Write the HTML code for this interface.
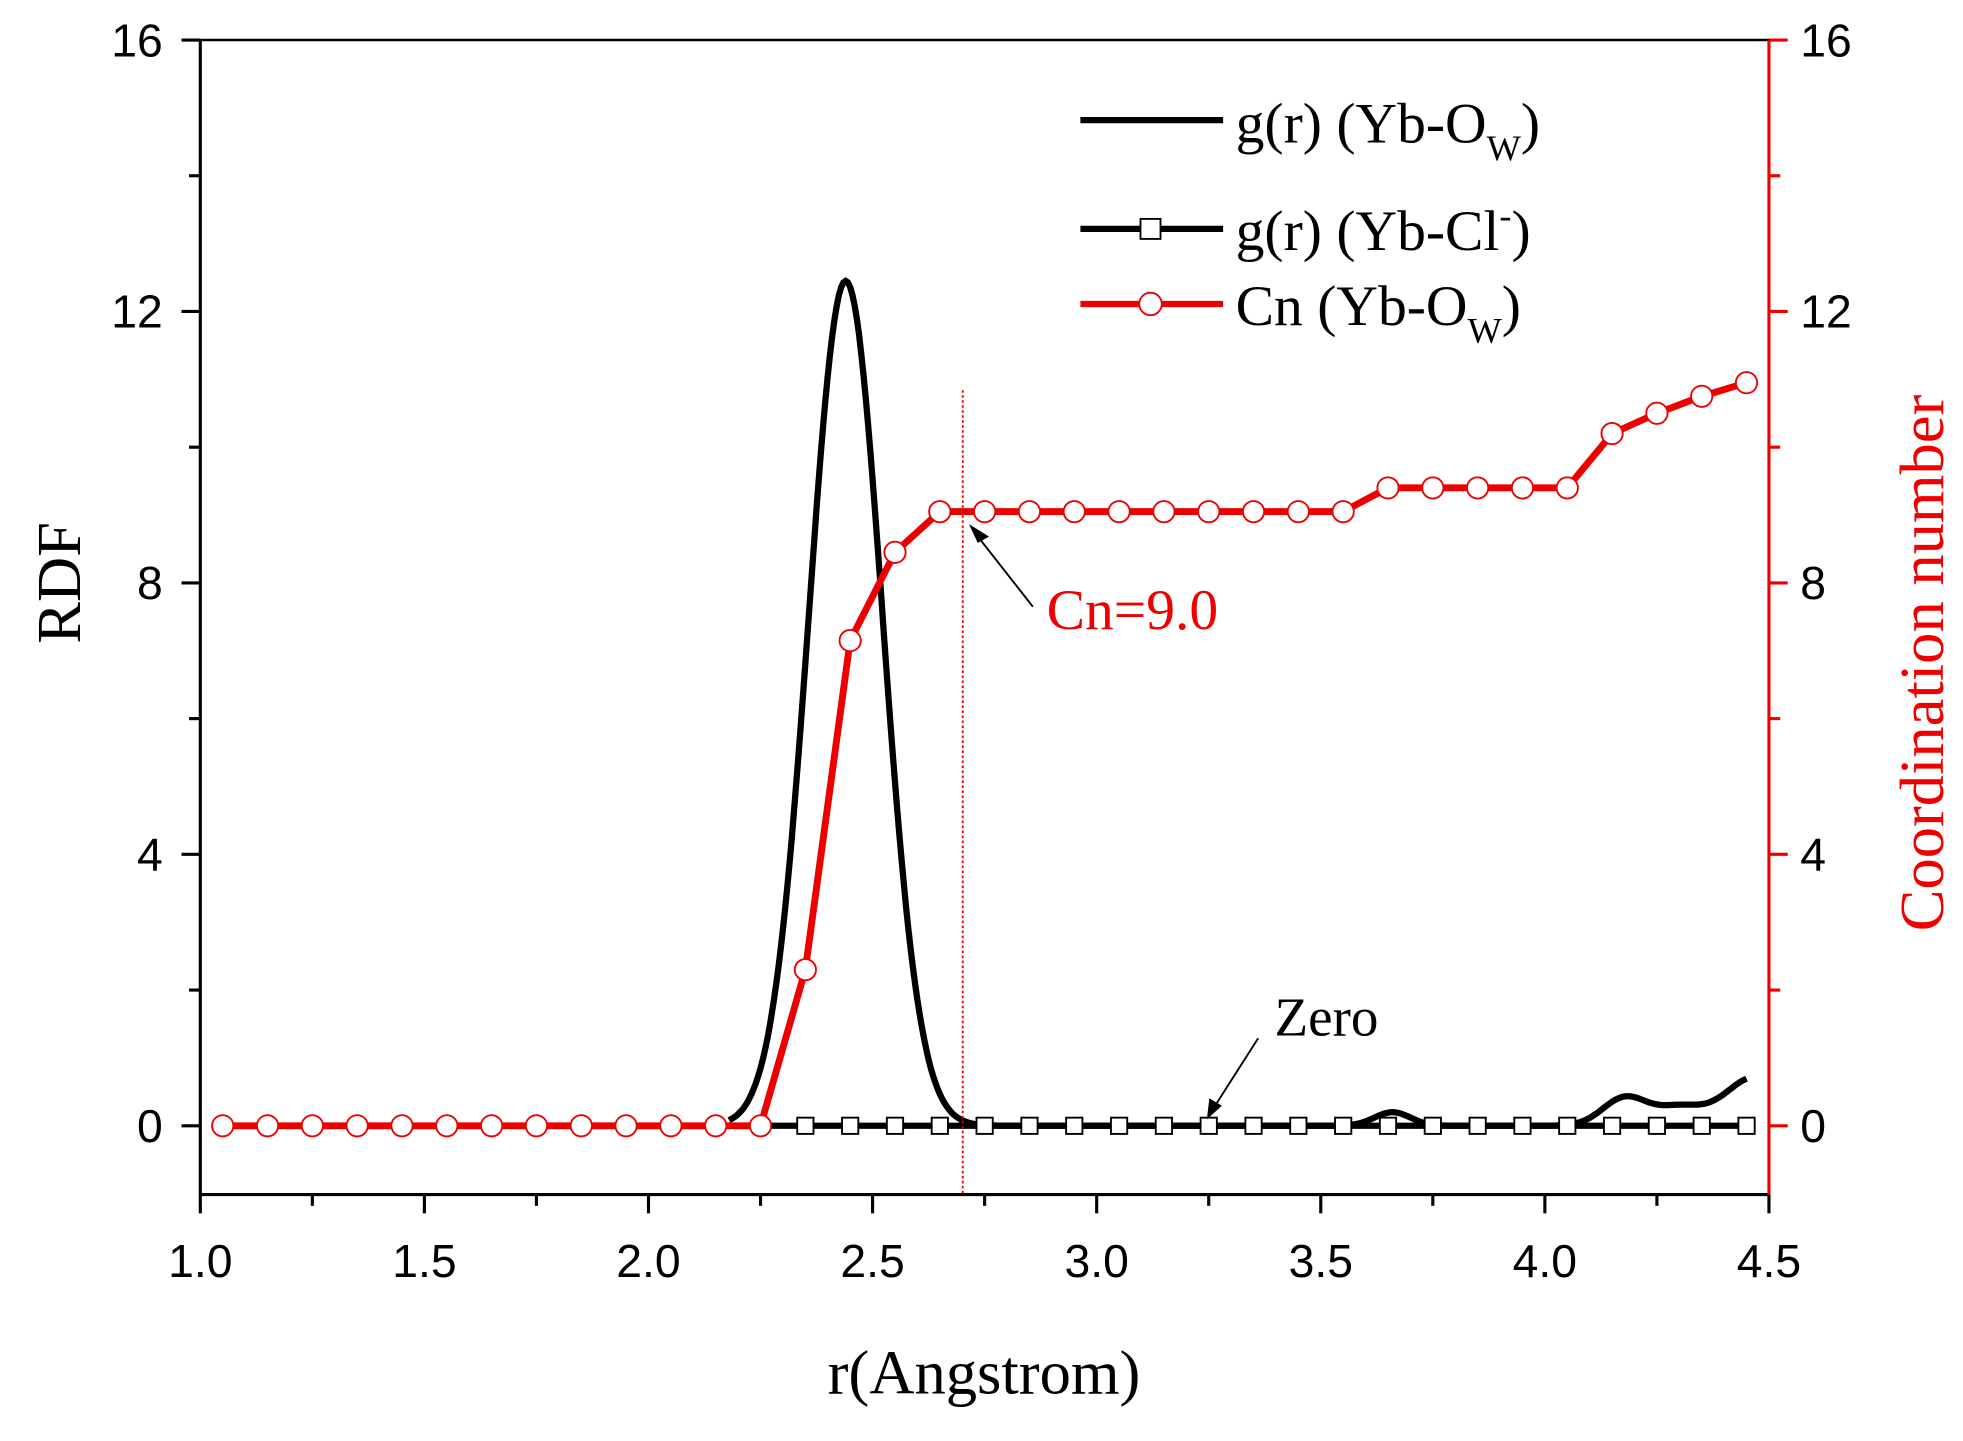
<!DOCTYPE html>
<html><head><meta charset="utf-8"><style>
html,body{margin:0;padding:0;background:#fff;}
svg{display:block;}
text{font-family:"Liberation Sans",sans-serif;}
.serif{font-family:"Liberation Serif",serif;}
</style></head><body>
<svg id="s" width="1963" height="1441" viewBox="0 0 1568 1152" preserveAspectRatio="none" xmlns="http://www.w3.org/2000/svg">
<rect width="1568" height="1152" fill="#fff"/>
<g id="plot"></g>
<line x1="160" y1="32" x2="160" y2="955" stroke="#000" stroke-width="2.5"/>
<line x1="159" y1="955" x2="1414" y2="955" stroke="#000" stroke-width="2.5"/>
<line x1="160" y1="32" x2="1414" y2="32" stroke="#000" stroke-width="2"/>
<line x1="1413" y1="32" x2="1413" y2="955" stroke="#e00" stroke-width="2.5"/>
<g id="ticks"></g>
<g font-size="37" text-anchor="middle">
<text x="160" y="1021">1.0</text><text x="339" y="1021">1.5</text><text x="518" y="1021">2.0</text><text x="697" y="1021">2.5</text><text x="876" y="1021">3.0</text><text x="1055" y="1021">3.5</text><text x="1234" y="1021">4.0</text><text x="1413" y="1021">4.5</text>
</g>
<g font-size="37" text-anchor="end">
<text x="130" y="913">0</text><text x="130" y="696">4</text><text x="130" y="479">8</text><text x="130" y="262">12</text><text x="130" y="45">16</text>
</g>
<g font-size="37" text-anchor="start">
<text x="1438" y="913">0</text><text x="1438" y="696">4</text><text x="1438" y="479">8</text><text x="1438" y="262">12</text><text x="1438" y="45">16</text>
</g>
<text class="serif" x="786" y="1114" font-size="50" text-anchor="middle">r(Angstrom)</text>
<text class="serif" font-size="50" transform="translate(64,466) rotate(-90)" text-anchor="middle">RDF</text>
<text class="serif" font-size="50" fill="#e00" transform="translate(1552,530) rotate(-90)" text-anchor="middle">Coordination number</text>
<line x1="863" y1="96" x2="977" y2="96" stroke="#000" stroke-width="5"/>
<text class="serif" x="987" y="114" font-size="46">g(r) (Yb-O<tspan font-size="29" dy="14">W</tspan><tspan dy="-14">)</tspan></text>
<line x1="863" y1="183" x2="977" y2="183" stroke="#000" stroke-width="5"/>
<rect x="911" y="175" width="16" height="16" fill="#fff" stroke="#000" stroke-width="1.5"/>
<text class="serif" x="987" y="200" font-size="46">g(r) (Yb-Cl<tspan font-size="29" dy="-18">-</tspan><tspan dy="18">)</tspan></text>
<line x1="863" y1="243" x2="977" y2="243" stroke="#e00" stroke-width="5"/>
<circle cx="919" cy="243" r="9" fill="#fff" stroke="#e00" stroke-width="1.5"/>
<text class="serif" x="987" y="260" font-size="46">Cn (Yb-O<tspan font-size="29" dy="14">W</tspan><tspan dy="-14">)</tspan></text>
<line x1="769" y1="312" x2="769" y2="955" stroke="#e00" stroke-width="1.5" stroke-dasharray="2,2"/>
<line x1="825" y1="485" x2="778" y2="425" stroke="#000" stroke-width="1.5"/>
<polygon points="774,419 790,429 781,434" fill="#000"/>
<text class="serif" x="836" y="503" font-size="46" fill="#e00">Cn=9.0</text>
<text class="serif" x="1018" y="828" font-size="44">Zero</text>
<line x1="1005" y1="830" x2="968" y2="888" stroke="#000" stroke-width="1.5"/>
<polygon points="964,895 966,878 976,884" fill="#000"/>
<script>
var X=function(r){return 160+(r-1)*358;},Y=function(v){return 900-v*54.25;};
var ns="http://www.w3.org/2000/svg",p=document.getElementById('plot'),t=document.getElementById('ticks');
function el(n,a,par){var e=document.createElementNS(ns,n);for(var k in a)e.setAttribute(k,a[k]);(par||p).appendChild(e);return e;}
for(var r=1;r<=4.501;r+=0.25){var maj=Math.abs(r*2-Math.round(r*2))<1e-6;el('line',{x1:X(r),y1:955,x2:X(r),y2:955+(maj?15:9),stroke:'#000','stroke-width':2.5},t);}
for(var v=0;v<=16;v+=2){var maj=v%4==0;el('line',{x1:160,y1:Y(v),x2:160-(maj?15:9),y2:Y(v),stroke:'#000','stroke-width':2.5},t);el('line',{x1:1413,y1:Y(v),x2:1413+(maj?15:9),y2:Y(v),stroke:'#e00','stroke-width':2.5},t);}
var d='';for(var r=2.18;r<=4.451;r+=0.005){var g=12.45*Math.exp(-Math.pow((r-2.44)/0.082,2)/2);
if(r>2.78)g=0;
g+=0.2*Math.exp(-Math.pow((r-3.66)/0.04,2)/2)+0.42*Math.exp(-Math.pow((r-4.18)/0.05,2)/2)+0.72*Math.exp(-Math.pow((r-4.47)/0.07,2)/2)+0.25*Math.exp(-Math.pow((r-4.3)/0.05,2)/2);
if(g<0.01&&(r<2.3))g=0;d+=(d?'L':'M')+X(r).toFixed(1)+','+Y(g).toFixed(1);}
el('line',{x1:X(2.2),y1:900,x2:X(4.45),y2:900,stroke:'#000','stroke-width':5});
el('path',{d:d,fill:'none',stroke:'#000','stroke-width':5});
for(var i=0;i<22;i++){var r=2.35+i*0.1;el('rect',{x:X(r)-6.5,y:900-6.5,width:13,height:13,fill:'#fff',stroke:'#000','stroke-width':1.5});}
var cn=[0,0,0,0,0,0,0,0,0,0,0,0,0,2.3,7.15,8.45,9.05,9.05,9.05,9.05,9.05,9.05,9.05,9.05,9.05,9.05,9.4,9.4,9.4,9.4,9.4,10.2,10.5,10.75,10.95];
var pts=cn.map(function(v,i){return X(1.05+i*0.1).toFixed(1)+','+Y(v).toFixed(1);});
el('polyline',{points:pts.join(' '),fill:'none',stroke:'#e00','stroke-width':5.5,'stroke-linejoin':'round'});
cn.forEach(function(v,i){el('circle',{cx:X(1.05+i*0.1),cy:Y(v),r:8.5,fill:'#fff',stroke:'#e00','stroke-width':1.5});});
</script>
</svg>
</body></html>
